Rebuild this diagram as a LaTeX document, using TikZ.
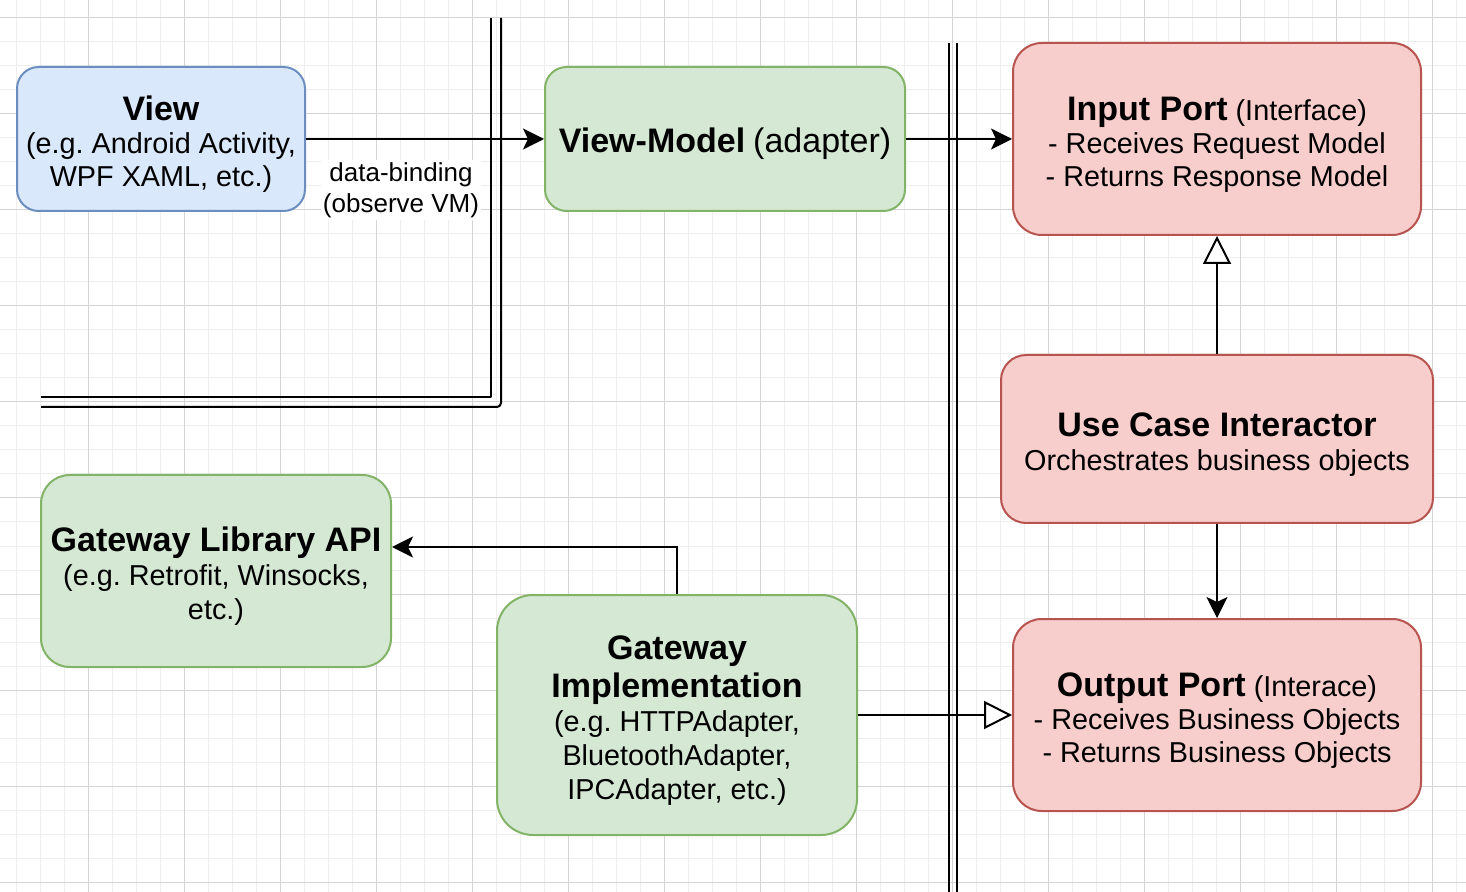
\documentclass[tikz,border=0pt]{standalone}
\usepackage{fontspec}
\setmainfont{Liberation Sans}
\usetikzlibrary{arrows.meta,calc,positioning}
\frenchspacing
\definecolor{viewfill}{HTML}{DAE8FC}
\definecolor{viewline}{HTML}{6C8EBF}
\definecolor{adfill}{HTML}{D5E8D4}
\definecolor{adline}{HTML}{82B366}
\definecolor{portfill}{HTML}{F8CECC}
\definecolor{portline}{HTML}{B85450}
\definecolor{gridminor}{RGB}{238,238,238}
\definecolor{gridmajor}{RGB}{212,212,212}
\newcommand{\boxtitle}[1]{{\fontsize{17}{19}\selectfont\bfseries #1}}
\newcommand{\topstrut}{\rule{0pt}{17.5pt}}
\tikzset{
  every node/.style={font=\fontsize{14.4}{16.9}\selectfont},
  box/.style={rectangle, line width=1pt, align=center, inner sep=0pt},
  view box/.style={box, draw=viewline, fill=viewfill},
  adapter box/.style={box, draw=adline, fill=adfill},
  port box/.style={box, draw=portline, fill=portfill},
  minor grid/.style={draw=gridminor, line width=0.5pt},
  major grid/.style={draw=gridmajor, line width=0.5pt},
  boundary/.style={line width=1pt, line join=round},
  flow/.style={line width=1pt, -{Stealth[length=10.5pt,width=10.5pt,inset=2.5pt]}},
  realize/.style={line width=1pt, -{Triangle[length=14pt,width=14pt,fill=white]}},
  binding label/.style={fill=white, inner sep=1pt, align=center,
    font=\fontsize{13}{15.5}\selectfont}
}

\begin{document}
\begin{tikzpicture}[x=0.5pt, y=-0.5pt]
  \useasboundingbox (0,0) rectangle (1466,892);
  \fill[white] (0,0) rectangle (1466,892);

  % grid
  \foreach \gx in {16,40,...,1466} \draw[minor grid] (\gx,0) -- (\gx,892);
  \foreach \gy in {18,42,...,892} \draw[minor grid] (0,\gy) -- (1466,\gy);
  \foreach \gx in {88,184,...,1466} \draw[major grid] (\gx,0) -- (\gx,892);
  \foreach \gy in {18,114,...,892} \draw[major grid] (0,\gy) -- (1466,\gy);

  % layer boundaries
  \draw[boundary] (491,18) -- (491,397) -- (41,397);
  \draw[boundary, rounded corners=2pt] (501,18) -- (501,407) -- (41,407);
  \draw[boundary] (949,43) -- (949,892);
  \draw[boundary] (957,43) -- (957,892);

  \node[view box, minimum width=144pt, minimum height=72pt,
    rounded corners=10.8pt] (view) at (161,139)
    {\topstrut\boxtitle{View}\\[-0.5pt](e.g. Android Activity,\\WPF XAML, etc.)};
  \node[adapter box, minimum width=180pt, minimum height=72pt,
    rounded corners=10.8pt] (vm) at (725,139)
    {\topstrut\boxtitle{View-Model} {\fontsize{17}{19}\selectfont(adapter)}};
  \node[port box, minimum width=204pt, minimum height=96pt,
    rounded corners=14.4pt] (inport) at (1217,139)
    {\topstrut\boxtitle{Input Port} (Interface)\\[-0.5pt]- Receives Request Model\\- Returns Response Model};
  \node[port box, minimum width=216pt, minimum height=84pt,
    rounded corners=12.6pt] (usecase) at (1217,439)
    {\topstrut\boxtitle{Use Case Interactor}\\Orchestrates business objects};
  \node[port box, minimum width=204pt, minimum height=96pt,
    rounded corners=14.4pt] (outport) at (1217,715)
    {\topstrut\boxtitle{Output Port} (Interace)\\[-0.5pt]- Receives Business Objects\\- Returns Business Objects};
  \node[adapter box, minimum width=175pt, minimum height=96pt,
    rounded corners=14.4pt] (gwlib) at (216,571)
    {\topstrut\boxtitle{Gateway Library API}\\(e.g. Retrofit, Winsocks,\\etc.)};
  \node[adapter box, minimum width=180pt, minimum height=120pt,
    rounded corners=18pt] (gwimpl) at (677,715)
    {\topstrut\boxtitle{Gateway}\\[2pt]\boxtitle{Implementation}\\(e.g. HTTPAdapter,\\BluetoothAdapter,\\IPCAdapter, etc.)};

  \draw[flow] (view) -- (vm);
  \node[binding label] (bindlbl) at (401,190) {data-binding\\(observe VM)};
  \draw[flow] (vm) -- (inport);
  \draw[realize] (usecase) -- (inport);
  \draw[flow] (usecase) -- (outport);
  \draw[flow] (gwimpl.north) |- ([yshift=12pt]gwlib.east);
  \draw[realize] (gwimpl) -- (outport);
\end{tikzpicture}
\end{document}
